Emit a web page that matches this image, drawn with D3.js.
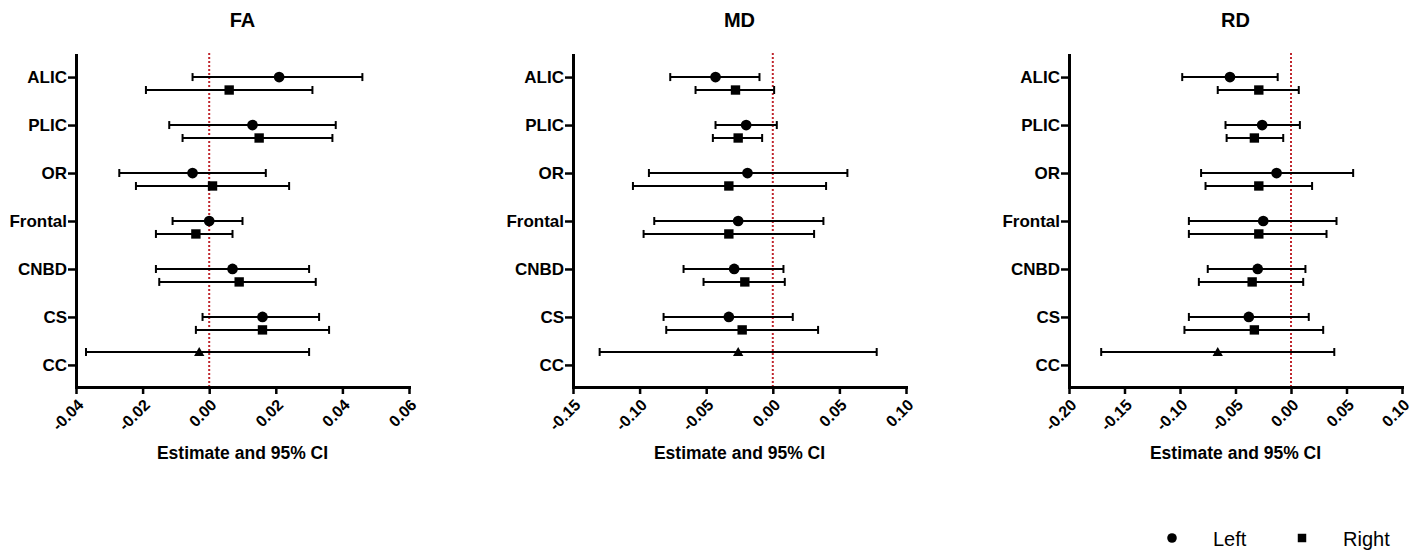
<!DOCTYPE html>
<html>
<head>
<meta charset="utf-8">
<script src="https://cdn.jsdelivr.net/npm/d3@7"></script>
<style>
  body { margin: 0; background: #fff; }
  svg { display: block; font-family: "Liberation Sans", Arial, sans-serif; }
</style>
</head>
<body>
<div id="chart"></div>
<script>
// ---- data (estimate, lower CI, upper CI) ----
const categories = ["ALIC", "PLIC", "OR", "Frontal", "CNBD", "CS", "CC"];

// FA
const faLeft  = [[0.021, -0.005, 0.046], [0.013, -0.012, 0.038], [-0.005, -0.027, 0.017],
                 [0.000, -0.011, 0.010], [0.007, -0.016, 0.030], [0.016, -0.002, 0.033]];
const faRight = [[0.006, -0.019, 0.031], [0.015, -0.008, 0.037], [0.001, -0.022, 0.024],
                 [-0.004, -0.016, 0.007], [0.009, -0.015, 0.032], [0.016, -0.004, 0.036]];
const faCC    = [-0.003, -0.037, 0.030];

// MD
const mdLeft  = [[-0.043, -0.077, -0.010], [-0.020, -0.043, 0.003], [-0.019, -0.093, 0.056],
                 [-0.026, -0.089, 0.038], [-0.029, -0.067, 0.008], [-0.033, -0.082, 0.015]];
const mdRight = [[-0.028, -0.058, 0.001], [-0.026, -0.045, -0.008], [-0.033, -0.105, 0.040],
                 [-0.033, -0.097, 0.031], [-0.021, -0.052, 0.009], [-0.023, -0.080, 0.034]];
const mdCC    = [-0.026, -0.130, 0.078];

// RD
const rdLeft  = [[-0.055, -0.098, -0.012], [-0.026, -0.059, 0.008], [-0.013, -0.081, 0.056],
                 [-0.025, -0.092, 0.041], [-0.030, -0.075, 0.013], [-0.038, -0.092, 0.016]];
const rdRight = [[-0.029, -0.066, 0.007], [-0.033, -0.058, -0.007], [-0.029, -0.077, 0.019],
                 [-0.029, -0.092, 0.032], [-0.035, -0.083, 0.011], [-0.033, -0.096, 0.029]];
const rdCC    = [-0.066, -0.171, 0.039];

const titles = ["FA", "MD", "RD"];
const xTicks = [
  [-0.04, -0.02, 0.00, 0.02, 0.04, 0.06],
  [-0.15, -0.10, -0.05, 0.00, 0.05, 0.10],
  [-0.20, -0.15, -0.10, -0.05, 0.00, 0.05, 0.10]
];
const legendItems = ["Left", "Right"];

// ---- layout ----
const W = 1418, H = 552;
const plotTop = 55, plotBottom = 387;
const panelLeft = [76, 573, 1069];
const panelWidth = 333;
const red = "#c0262d";

const svg = d3.select("#chart").append("svg")
  .attr("width", W).attr("height", H);

const panels = [
  {left: faLeft, right: faRight, cc: faCC},
  {left: mdLeft, right: mdRight, cc: mdCC},
  {left: rdLeft, right: rdRight, cc: rdCC}
];

const y = d3.scalePoint()
  .domain(categories)
  .range([plotTop, plotBottom])
  .padding(0.46);
const off = y.step() * 0.27;

const sym = {
  circle: d3.symbol().type(d3.symbolCircle).size(90)(),
  square: d3.symbol().type(d3.symbolSquare).size(88)(),
  triangle: d3.symbol().type(d3.symbolTriangle).size(46)()
};

panels.forEach((p, i) => {
  const ticks = xTicks[i];
  const x = d3.scaleLinear()
    .domain([ticks[0], ticks[ticks.length - 1]])
    .range([panelLeft[i], panelLeft[i] + panelWidth]);

  const g = svg.append("g");

  // title
  g.append("text")
    .attr("x", panelLeft[i] + panelWidth / 2)
    .attr("y", 27)
    .attr("text-anchor", "middle")
    .style("font-size", "20px")
    .style("font-weight", "bold")
    .text(titles[i]);

  // zero line
  g.append("line")
    .attr("x1", x(0)).attr("x2", x(0))
    .attr("y1", plotTop - 2).attr("y2", plotBottom)
    .attr("stroke", red)
    .attr("stroke-width", 2)
    .attr("stroke-dasharray", "2,2");

  // rows: left / right / bilateral
  const rows = [];
  p.left.forEach((d, k) => rows.push({cat: categories[k], dy: 0, v: d, s: "circle"}));
  p.right.forEach((d, k) => rows.push({cat: categories[k], dy: off, v: d, s: "square"}));
  rows.push({cat: "CC", dy: -off, v: p.cc, s: "triangle"});

  const r = g.append("g").selectAll("g").data(rows).join("g")
    .attr("transform", d => `translate(0,${y(d.cat) + d.dy})`);

  r.append("line")
    .attr("x1", d => x(d.v[1])).attr("x2", d => x(d.v[2]))
    .attr("stroke", "#000").attr("stroke-width", 2);
  r.append("line")
    .attr("x1", d => x(d.v[1])).attr("x2", d => x(d.v[1]))
    .attr("y1", -4).attr("y2", 4)
    .attr("stroke", "#000").attr("stroke-width", 2);
  r.append("line")
    .attr("x1", d => x(d.v[2])).attr("x2", d => x(d.v[2]))
    .attr("y1", -4).attr("y2", 4)
    .attr("stroke", "#000").attr("stroke-width", 2);
  r.append("path")
    .attr("transform", d => `translate(${x(d.v[0])},${d.s === "triangle" ? 1 : 0})`)
    .attr("d", d => sym[d.s])
    .attr("fill", "#000");

  // y axis
  const ya = g.append("g")
    .attr("transform", `translate(${panelLeft[i]},0)`)
    .call(d3.axisLeft(y).tickSize(8).tickSizeOuter(0).tickPadding(1));
  ya.selectAll("text")
    .style("font-size", "17px").style("font-weight", "bold").attr("fill", "#000");

  // x axis
  const xa = g.append("g")
    .attr("transform", `translate(0,${plotBottom})`)
    .call(d3.axisBottom(x).tickValues(ticks).tickSize(7).tickSizeOuter(0)
      .tickFormat(d => d.toFixed(2)));
  xa.selectAll("text")
    .attr("x", 0).attr("y", 0).attr("dy", "0.35em")
    .attr("transform", "translate(4,15) rotate(-45)")
    .style("text-anchor", "end")
    .style("font-size", "16px").style("font-weight", "bold").attr("fill", "#000");

  [ya, xa].forEach(a => {
    a.select(".domain").attr("stroke", "#000").attr("stroke-width", 3)
      .attr("stroke-linecap", "square");
    a.selectAll(".tick line").attr("stroke", "#000").attr("stroke-width", 2.5);
  });

  // x label
  g.append("text")
    .attr("x", panelLeft[i] + panelWidth / 2)
    .attr("y", 459)
    .attr("text-anchor", "middle")
    .style("font-size", "17.5px")
    .style("font-weight", "bold")
    .text("Estimate and 95% CI");
});

// legend
const lg = svg.append("g").attr("transform", "translate(1172,538)");
const legendSyms = [d3.symbol().type(d3.symbolCircle).size(72)(), d3.symbol().type(d3.symbolSquare).size(72)()];
legendItems.forEach((name, k) => {
  const gx = k * 130;
  lg.append("path").attr("transform", `translate(${gx},0)`).attr("d", legendSyms[k]).attr("fill", "#000");
  lg.append("text")
    .attr("x", gx + 41).attr("y", 8)
    .style("font-size", "20px")
    .text(name);
});
</script>
</body>
</html>
